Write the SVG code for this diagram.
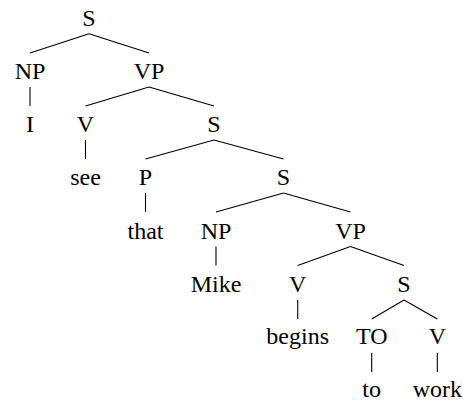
<svg xmlns="http://www.w3.org/2000/svg" width="463" height="401" viewBox="0 0 463 401">
<style>
text{font-size:24px;fill:#000;text-anchor:middle}
.e line{stroke:#000;stroke-width:1.1}
</style>
<rect width="463" height="401" fill="#fff"/>
<g class="e" id="edges">
<line x1="89" y1="33.7" x2="30" y2="53"/>
<line x1="89" y1="33.7" x2="149" y2="53"/>
<line x1="30" y1="87" x2="30" y2="106"/>
<line x1="149" y1="87" x2="85.5" y2="106"/>
<line x1="149" y1="87" x2="214" y2="106"/>
<line x1="85.5" y1="140" x2="85.5" y2="159"/>
<line x1="214" y1="140" x2="145.5" y2="159"/>
<line x1="214" y1="140" x2="283.5" y2="159"/>
<line x1="145.5" y1="193" x2="145.5" y2="212"/>
<line x1="283.5" y1="193" x2="216" y2="212"/>
<line x1="283.5" y1="193" x2="350.5" y2="212"/>
<line x1="216" y1="246.5" x2="216" y2="265.5"/>
<line x1="350.5" y1="246.5" x2="297.7" y2="265.5"/>
<line x1="350.5" y1="246.5" x2="404" y2="265.5"/>
<line x1="297.7" y1="300" x2="297.7" y2="319"/>
<line x1="404" y1="300" x2="371.7" y2="319"/>
<line x1="404" y1="300" x2="437.3" y2="319"/>
<line x1="371.7" y1="353" x2="371.7" y2="372"/>
<line x1="437.3" y1="353" x2="437.3" y2="372"/>
</g>
<g font-family="Liberation Serif, DejaVu Serif, serif">
<g id="n_S1"><text x="89" y="25.5">S</text></g>
<g id="n_NP1"><text x="30" y="79">NP</text></g>
<g id="n_VP1"><text x="149" y="79">VP</text></g>
<g id="n_I"><text x="30" y="132">I</text></g>
<g id="n_V1"><text x="85.5" y="132">V</text></g>
<g id="n_S2"><text x="214" y="132">S</text></g>
<g id="n_see"><text x="85.5" y="185">see</text></g>
<g id="n_P"><text x="145.5" y="185">P</text></g>
<g id="n_S3"><text x="283.5" y="185">S</text></g>
<g id="n_that"><text x="145.5" y="238.5">that</text></g>
<g id="n_NP2"><text x="216" y="238.5">NP</text></g>
<g id="n_VP2"><text x="350.5" y="238.5">VP</text></g>
<g id="n_Mike"><text x="216" y="291.5">Mike</text></g>
<g id="n_V2"><text x="297.7" y="291.5">V</text></g>
<g id="n_S4"><text x="404" y="291.5">S</text></g>
<g id="n_begins"><text x="297.7" y="344">begins</text></g>
<g id="n_TO"><text x="371.7" y="344">TO</text></g>
<g id="n_V3"><text x="437.3" y="344">V</text></g>
<g id="n_to"><text x="371.7" y="396.5">to</text></g>
<g id="n_work"><text x="437.3" y="396.5">work</text></g>
</g>
</svg>
